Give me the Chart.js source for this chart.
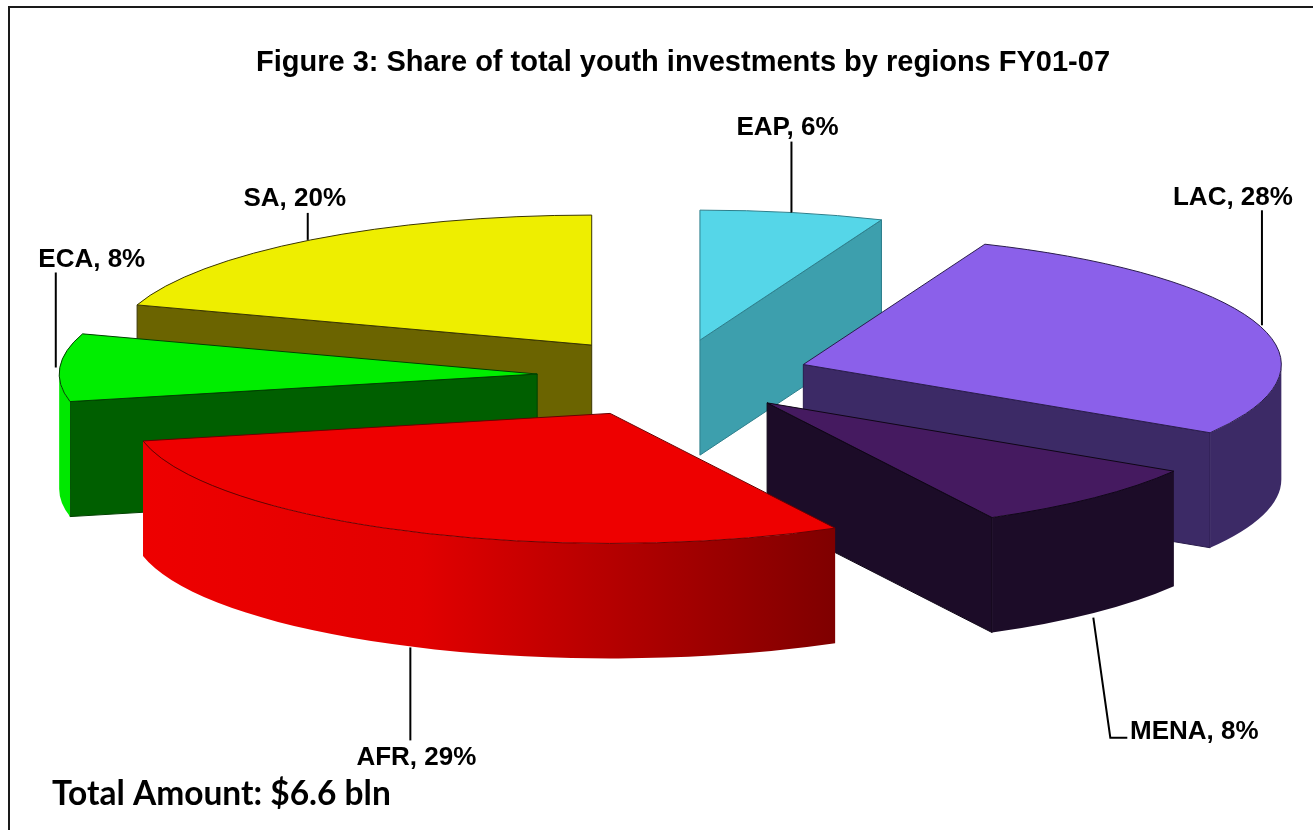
<!DOCTYPE html>
<html>
<head>
<meta charset="utf-8">
<title>Figure 3</title>
<script src="https://cdn.jsdelivr.net/npm/chart.js@4"></script>
<style>
  html, body { margin: 0; padding: 0; background: #fff; overflow: hidden; width: 1313px; height: 830px; }
  canvas { display: block; }
</style>
</head>
<body>
<canvas id="chart" width="1366" height="830"></canvas>
<script>
const regions = ['EAP', 'LAC', 'MENA', 'AFR', 'ECA', 'SA'];
const shares = [6.2, 27.6, 8.4, 29.4, 8.4, 20];
const titleText = 'Figure 3: Share of total youth investments by regions FY01-07';
const totalText = 'Total Amount: $6.6 bln';

// look of the slices
const explode = [134, 136, 136, 152, 137, 140];
const topColors = ['#55d6e8', '#8b60ea', '#451a60', '#ee0000', '#00ee00', '#eeee00'];
const wallColors = ['#3d9fad', '#3c2a66', '#1c0c28', '#880000', '#005f00', '#6b6400'];
const rimStops = [
  ['#3d9fad', '#3d9fad'],
  ['#3c2a66', '#3c2a66'],
  ['#1c0c28', '#1c0c28'],
  ['#ee0000', '#e20000', '#7f0000'],
  ['#00e800', '#00e800'],
  ['#6b6400', '#6b6400']
];
const edgeColors = ['#2d7f8c', '#2a1c4c', '#0f0616', '#6a0000', '#004000', '#3a3600'];
const drawOrder = [0, 1, 2, 5, 4, 3]; // back to front
const tilt = 0.272;
const depth = 115;
const viewShiftX = -9; // title is centred at 683, pie sits left of it

// leader and label, relative to the point where the leader meets the slice
const leaders = [
  { line: [[-1, 0], [-1, -71]], text: [-5, -85] },
  { line: [[4, 1], [4, -114]], text: [-25, -126] },
  { line: [[-1, 5], [16, 125], [33, 125]], text: [100, 119] },
  { line: [[1, 1], [1, 94]], text: [7, 111] },
  { line: [[-4, 0], [-4, -95]], text: [32, -108] },
  { line: [[-3, 0], [-3, -27]], text: [-16, -41] }
];

function projector(arc, offset) {
  const mid = (arc.startAngle + arc.endAngle) / 2;
  const cx = arc.x + viewShiftX + Math.cos(mid) * offset;
  const cy = arc.y + Math.sin(mid) * offset * tilt;
  const rx = arc.outerRadius;
  const ry = rx * tilt;
  return { cx, cy, rx, ry, at: a => [cx + rx * Math.cos(a), cy + ry * Math.sin(a)] };
}

function drawWall(ctx, p, a, color, edge) {
  const [x, y] = p.at(a);
  ctx.beginPath();
  ctx.moveTo(p.cx, p.cy);
  ctx.lineTo(x, y);
  ctx.lineTo(x, y + depth);
  ctx.lineTo(p.cx, p.cy + depth);
  ctx.closePath();
  ctx.fillStyle = color;
  ctx.fill();
  ctx.strokeStyle = edge;
  ctx.stroke();
}

function drawSlice(ctx, arc, i) {
  const p = projector(arc, arc.options.offset);
  const s = arc.startAngle;
  const e = arc.endAngle;
  ctx.lineWidth = 1;

  // cut faces, only those turned to the viewer
  if (Math.cos(s) < 0) drawWall(ctx, p, s, wallColors[i], edgeColors[i]);
  if (Math.cos(e) > 0) drawWall(ctx, p, e, wallColors[i], edgeColors[i]);

  // outer rim on the front half
  const a0 = Math.max(s, 0);
  const a1 = Math.min(e, Math.PI);
  if (a1 > a0) {
    const xs = [p.at(a0)[0], p.at(a1)[0]];
    const grad = ctx.createLinearGradient(Math.min(...xs), 0, Math.max(...xs), 0);
    rimStops[i].forEach((c, k, all) => grad.addColorStop(k === 1 && all.length === 3 ? 0.4 : k / (all.length - 1), c));
    ctx.beginPath();
    ctx.ellipse(p.cx, p.cy, p.rx, p.ry, 0, a0, a1);
    ctx.ellipse(p.cx, p.cy + depth, p.rx, p.ry, 0, a1, a0, true);
    ctx.closePath();
    ctx.fillStyle = grad;
    ctx.fill();
  }

  // top face
  ctx.beginPath();
  ctx.moveTo(p.cx, p.cy);
  ctx.ellipse(p.cx, p.cy, p.rx, p.ry, 0, s, e);
  ctx.closePath();
  ctx.fillStyle = topColors[i];
  ctx.fill();
  ctx.strokeStyle = edgeColors[i];
  ctx.stroke();
}

function drawLabel(ctx, arc, i) {
  const p = projector(arc, arc.options.offset);
  const mid = (arc.startAngle + arc.endAngle) / 2;
  const [ax, ay0] = p.at(mid);
  const ay = Math.sin(mid) > 0 ? ay0 + depth : ay0;
  const lead = leaders[i];

  ctx.beginPath();
  lead.line.forEach(([dx, dy], k) => {
    if (k === 0) ctx.moveTo(ax + dx, ay + dy);
    else ctx.lineTo(ax + dx, ay + dy);
  });
  ctx.strokeStyle = '#000';
  ctx.lineWidth = 2;
  ctx.stroke();

  ctx.fillStyle = '#000';
  ctx.font = 'bold 26px "Liberation Sans", Arial, sans-serif';
  ctx.textAlign = 'center';
  ctx.textBaseline = 'middle';
  ctx.fillText(regions[i] + ', ' + Math.round(shares[i]) + '%', ax + lead.text[0], ay + lead.text[1]);
}

const pie3d = {
  id: 'pie3d',
  beforeDatasetsDraw(chart) {
    const ctx = chart.ctx;
    // frame runs off the right and bottom of the page
    ctx.save();
    ctx.strokeStyle = '#1a1a1a';
    ctx.lineWidth = 2;
    ctx.strokeRect(9, 7, 1400, 900);
    ctx.restore();

    const arcs = chart.getDatasetMeta(0).data;
    ctx.save();
    drawOrder.forEach(i => drawSlice(ctx, arcs[i], i));
    arcs.forEach((arc, i) => drawLabel(ctx, arc, i));
    ctx.fillStyle = '#000';
    ctx.font = 'bold 33.5px Lato, sans-serif';
    ctx.textAlign = 'left';
    ctx.textBaseline = 'alphabetic';
    ctx.fillText(totalText, 52, 805);
    ctx.restore();
  },
  beforeDatasetDraw() {
    return false;
  }
};

new Chart(document.getElementById('chart'), {
  type: 'pie',
  data: {
    labels: regions,
    datasets: [{
      data: shares,
      backgroundColor: topColors,
      offset: explode,
      borderWidth: 0
    }]
  },
  options: {
    responsive: false,
    animation: false,
    radius: 478,
    layout: { padding: { bottom: 159 } },
    plugins: {
      legend: { display: false },
      tooltip: { enabled: false },
      title: {
        display: true,
        text: titleText,
        color: '#000',
        font: { family: '"Liberation Sans", Arial, sans-serif', size: 29, weight: 'bold' },
        padding: { top: 46, bottom: 0 }
      }
    }
  },
  plugins: [pie3d]
});
</script>
</body>
</html>
